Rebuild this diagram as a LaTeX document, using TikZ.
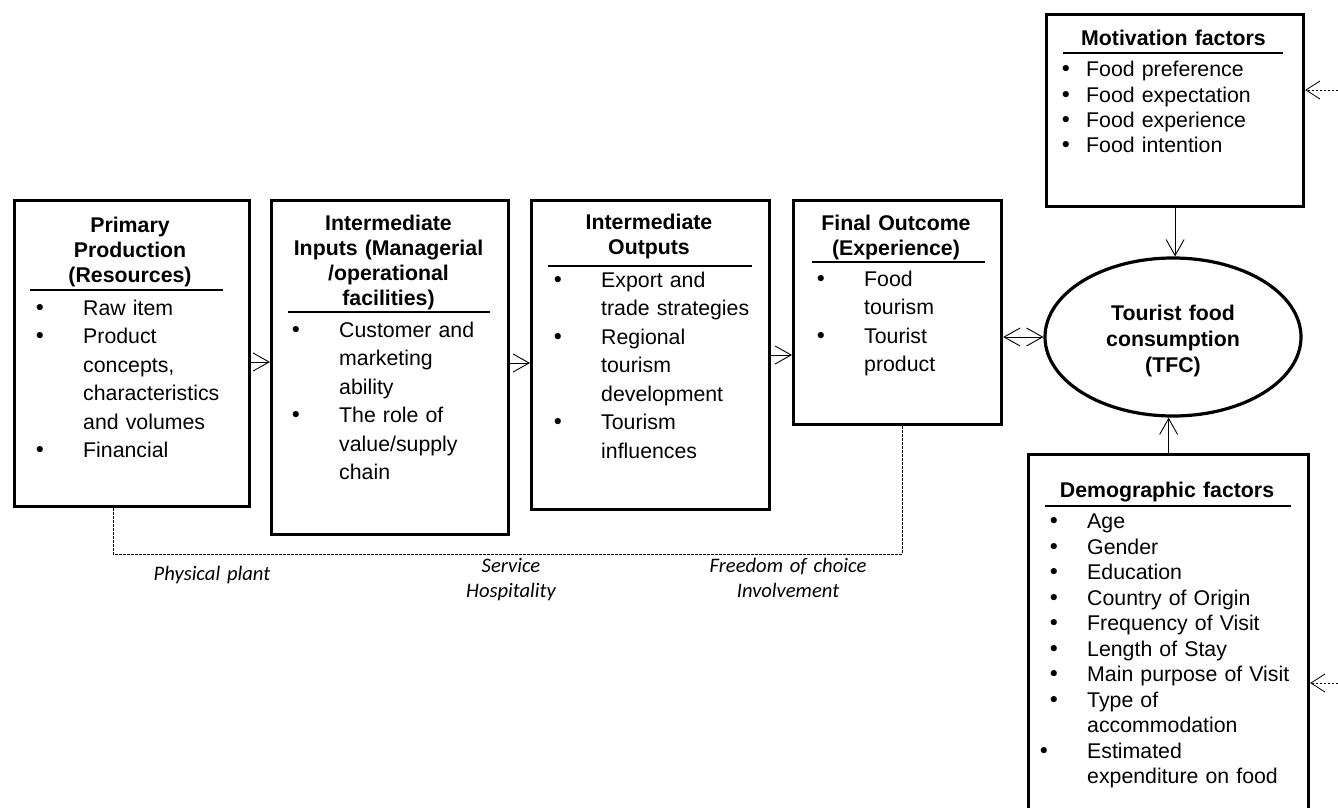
\documentclass[tikz,border=0pt]{standalone}
\usepackage{fontspec}
\setmainfont{Liberation Sans}
\newfontfamily\labfont{Carlito}
\newfontfamily\dotfont{DejaVu Sans}
\usetikzlibrary{arrows.meta,shapes.geometric}

% bullet cell and continuation indent for the item lists
\newcommand\bigdot{{\dotfont\char"2022}}
\newcommand\bul[1][47.7pt]{\makebox[#1][l]{\hspace*{-2pt}\bigdot}}
\newcommand\ind[1][47.7pt]{\hspace*{#1}}

\begin{document}
\begin{tikzpicture}[x=1pt,y=-1pt,
  frame/.style={draw, line width=3.2pt, inner sep=0pt, anchor=north west},
  headtext/.style={font=\fontsize{21.3}{25}\selectfont\bfseries, align=center,
    inner sep=0pt, anchor=base},
  listtext/.style={font=\fontsize{21.3}{28.5}\selectfont, align=left,
    inner sep=0pt, anchor=base west, text width=270pt},
  factlist/.style={listtext, font=\fontsize{21.3}{25.5}\selectfont},
  note/.style={font=\labfont\itshape\fontsize{20.6}{25}\selectfont, align=center,
    inner sep=0pt, anchor=base, text width=220pt},
  rulel/.style={line width=1.6pt},
  flow/.style={line width=0.9pt, -{Straight Barb[length=16pt,width=18pt]}},
  twoway/.style={line width=0.9pt,
    {Straight Barb[length=16pt,width=18pt]}-{Straight Barb[length=16pt,width=18pt]}},
  link/.style={line width=0.8pt, dash pattern=on 2.5pt off 1.5pt},
  linkarrow/.style={link, -{Straight Barb[length=14pt,width=18pt]}}]

\path[use as bounding box, clip] (0,0) rectangle (1338,808);

% ---- supply chain boxes ----
\node[frame, minimum width=235pt, minimum height=306pt] (pp) at (13,199) {};
\node[headtext, text width=225pt] (pph) at (130,232) {Primary\\Production\\(Resources)};
\draw[rulel] (30,290) -- (223,290);
\node[listtext] (ppl) at (35.3,315) {\bul Raw item\\\bul Product\\\ind concepts,\\\ind characteristics\\\ind and volumes\\\bul Financial};

\node[frame, minimum width=237pt, minimum height=334pt] (ii) at (270,199) {};
\node[headtext, text width=230pt] (iih) at (388.5,230) {Intermediate\\Inputs (Managerial\\/operational\\facilities)};
\draw[rulel] (288,312) -- (490,312);
\node[listtext] (iil) at (291.3,337) {\bul Customer and\\\ind marketing\\\ind ability\\\bul The role of\\\ind value/supply\\\ind chain};

\node[frame, minimum width=238pt, minimum height=309pt] (io) at (530,199) {};
\node[headtext, text width=230pt] (ioh) at (649,229) {Intermediate\\Outputs};
\draw[rulel] (548,266) -- (752,266);
\node[listtext] (iol) at (553.3,287) {\bul Export and\\\ind trade strategies\\\bul Regional\\\ind tourism\\\ind development\\\bul Tourism\\\ind influences};

\node[frame, minimum width=208pt, minimum height=224pt] (fo) at (792,199) {};
\node[headtext, text width=200pt] (foh) at (896,230) {Final Outcome\\(Experience)};
\draw[rulel] (812,262) -- (985,262);
\node[listtext] (fol) at (816.3,286) {\bul Food\\\ind tourism\\\bul Tourist\\\ind product};

% ---- consumption and its factors ----
\node[frame, minimum width=257pt, minimum height=192pt] (mot) at (1045,13) {};
\node[headtext, text width=250pt] (moth) at (1173.5,45.5) {Motivation factors};
\draw[rulel] (1063,53) -- (1283,53);
\node[factlist] (motl) at (1061.3,76.5) {\bul[24.7pt]Food preference\\\bul[24.7pt]Food expectation\\\bul[24.7pt]Food experience\\\bul[24.7pt]Food intention};

\node[draw, ellipse, line width=3.2pt, inner sep=0pt, minimum width=256pt, minimum height=158pt] (tfc) at (1173,337) {};
\node[headtext, font=\fontsize{21.3}{26}\selectfont\bfseries, text width=220pt] (tfct) at (1173,320) {Tourist food\\consumption\\(TFC)};

\node[frame, minimum width=280pt, minimum height=380pt] (dem) at (1027,453) {};
\node[headtext, text width=270pt] (demh) at (1167,497) {Demographic factors};
\draw[rulel] (1045,506) -- (1291,506);
\node[factlist] (deml) at (1049.3,528.5) {\bul[37.7pt]Age\\\bul[37.7pt]Gender\\\bul[37.7pt]Education\\\bul[37.7pt]Country of Origin\\\bul[37.7pt]Frequency of Visit\\\bul[37.7pt]Length of Stay\\\bul[37.7pt]Main purpose of Visit\\\bul[37.7pt]Type of\\\ind[37.7pt]accommodation\\\hspace*{-10pt}\bul[47.7pt]Estimated\\\ind[37.7pt]expenditure on food};

% ---- connectors ----
\draw[flow] (pp.east |- 0,362) -- (ii.west |- 0,362);
\draw[flow] (ii.east |- 0,363) -- (io.west |- 0,363);
\draw[flow] (io.east |- 0,355) -- (fo.west |- 0,355);
\draw[twoway] (fo.east |- tfc.west) -- (tfc.west);
\draw[flow] (mot.south) -- (mot.south |- tfc.north);
\draw[flow] (dem.north) -- (dem.north |- tfc.south);

\coordinate (mr) at (1338,90);
\coordinate (dr) at (1338,683);
\draw[linkarrow] (mr) -- (mot.east |- mr);
\draw[linkarrow] (dr) -- (dem.east |- dr);

\coordinate (bl) at (113,554);
\coordinate (br) at (902,554);
\draw[link] (pp.south -| bl) -- (bl) -- (br) -- (fo.south -| br);

% ---- labels under the bracket ----
\node[note] (np) at (212,580) {Physical plant};
\node[note] (ns) at (511,572) {Service\\Hospitality};
\node[note] (nf) at (788,572) {Freedom of choice\\Involvement};
\end{tikzpicture}
\end{document}
